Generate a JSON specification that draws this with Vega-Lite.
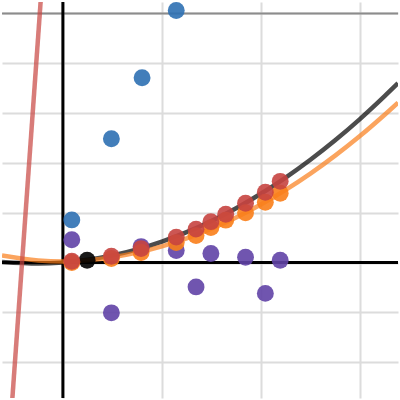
{
  "$schema": "https://vega.github.io/schema/vega-lite/v6.json",
  "width": 400,
  "height": 400,
  "autosize": {"type": "fit", "contains": "padding"},
  "padding": 0,
  "config": {
    "view": {"stroke": null},
    "axis": {"grid": true, "labels": false, "ticks": false, "domain": false, "title": null, "gridColor": "#dcdcdc", "gridWidth": 2}
  },
  "datasets": {
    "vaxis": [{"x": 0}],
    "haxis": [{"y": 0}],
    "top": [{"y": 5}],
    "blackCurve": [
      {"x": -1.23, "y": 0.009}, {"x": -0.5, "y": -0.021}, {"x": 0, "y": 0}, {"x": 0.5, "y": 0.055},
      {"x": 1, "y": 0.143}, {"x": 1.5, "y": 0.265}, {"x": 2, "y": 0.421}, {"x": 2.5, "y": 0.61},
      {"x": 3, "y": 0.834}, {"x": 3.5, "y": 1.09}, {"x": 4, "y": 1.38}, {"x": 4.5, "y": 1.705},
      {"x": 5, "y": 2.063}, {"x": 5.5, "y": 2.454}, {"x": 6, "y": 2.88}, {"x": 6.5, "y": 3.34}, {"x": 6.77, "y": 3.6}
    ],
    "orangeCurve": [
      {"x": -1.23, "y": 0.14}, {"x": -0.5, "y": 0.04}, {"x": 0, "y": 0.02}, {"x": 0.5, "y": 0.046},
      {"x": 1, "y": 0.105}, {"x": 1.5, "y": 0.198}, {"x": 2, "y": 0.325}, {"x": 2.5, "y": 0.484},
      {"x": 3, "y": 0.678}, {"x": 3.5, "y": 0.904}, {"x": 4, "y": 1.164}, {"x": 4.5, "y": 1.458},
      {"x": 5, "y": 1.785}, {"x": 5.5, "y": 2.146}, {"x": 6, "y": 2.539}, {"x": 6.5, "y": 2.967}, {"x": 6.77, "y": 3.21}
    ],
    "redLine": [{"x": -0.43, "y": 5.51}, {"x": -1.05, "y": -3.14}],
    "points": [
      {"s": "black", "x": 0.49, "y": 0.046},
      {"s": "blue", "x": 0.18, "y": 0.855}, {"s": "blue", "x": 0.98, "y": 2.485}, {"s": "blue", "x": 1.6, "y": 3.71}, {"s": "blue", "x": 2.29, "y": 5.06},
      {"s": "purple", "x": 0.18, "y": 0.457}, {"s": "purple", "x": 0.98, "y": -1.01}, {"s": "purple", "x": 1.58, "y": 0.32},
      {"s": "purple", "x": 2.29, "y": 0.24}, {"s": "purple", "x": 2.69, "y": -0.49}, {"s": "purple", "x": 2.99, "y": 0.18},
      {"s": "purple", "x": 3.69, "y": 0.105}, {"s": "purple", "x": 4.09, "y": -0.62}, {"s": "purple", "x": 4.39, "y": 0.046},
      {"s": "orange", "x": 0.18, "y": 0.0}, {"s": "orange", "x": 0.98, "y": 0.08}, {"s": "orange", "x": 1.58, "y": 0.2},
      {"s": "orange", "x": 2.29, "y": 0.4}, {"s": "orange", "x": 2.69, "y": 0.54}, {"s": "orange", "x": 2.99, "y": 0.7},
      {"s": "orange", "x": 3.29, "y": 0.85}, {"s": "orange", "x": 3.69, "y": 1.0}, {"s": "orange", "x": 4.09, "y": 1.21},
      {"s": "orange", "x": 4.39, "y": 1.39},
      {"s": "red", "x": 0.18, "y": 0.026}, {"s": "red", "x": 0.98, "y": 0.125}, {"s": "red", "x": 1.58, "y": 0.28},
      {"s": "red", "x": 2.29, "y": 0.51}, {"s": "red", "x": 2.69, "y": 0.67}, {"s": "red", "x": 2.99, "y": 0.82},
      {"s": "red", "x": 3.29, "y": 0.97}, {"s": "red", "x": 3.69, "y": 1.19}, {"s": "red", "x": 4.09, "y": 1.41},
      {"s": "red", "x": 4.39, "y": 1.63}
    ]
  },
  "layer": [
    {
      "data": {"name": "points"},
      "mark": {"type": "point", "opacity": 0},
      "encoding": {
        "x": {"field": "x", "type": "quantitative", "scale": {"domain": [-1.23, 6.77], "nice": false, "zero": false}, "axis": {"values": [-2, 0, 2, 4, 6]}},
        "y": {"field": "y", "type": "quantitative", "scale": {"domain": [-2.72, 5.23], "nice": false, "zero": false}, "axis": {"values": [-2, -1, 0, 1, 2, 3, 4, 5]}}
      }
    },
    {
      "data": {"name": "top"},
      "mark": {"type": "rule", "color": "#8c8c8c", "strokeWidth": 2},
      "encoding": {"y": {"field": "y", "type": "quantitative", "scale": {"domain": [-2.72, 5.23], "nice": false, "zero": false}}}
    },
    {
      "data": {"name": "vaxis"},
      "mark": {"type": "rule", "color": "#000000", "strokeWidth": 3},
      "encoding": {"x": {"field": "x", "type": "quantitative", "scale": {"domain": [-1.23, 6.77], "nice": false, "zero": false}}}
    },
    {
      "data": {"name": "haxis"},
      "mark": {"type": "rule", "color": "#000000", "strokeWidth": 3},
      "encoding": {"y": {"field": "y", "type": "quantitative", "scale": {"domain": [-2.72, 5.23], "nice": false, "zero": false}}}
    },
    {
      "data": {"name": "blackCurve"},
      "mark": {"type": "line", "color": "#000000", "opacity": 0.7, "strokeWidth": 4.5, "interpolate": "monotone", "clip": true},
      "encoding": {
        "x": {"field": "x", "type": "quantitative", "scale": {"domain": [-1.23, 6.77], "nice": false, "zero": false}},
        "y": {"field": "y", "type": "quantitative", "scale": {"domain": [-2.72, 5.23], "nice": false, "zero": false}}
      }
    },
    {
      "data": {"name": "orangeCurve"},
      "mark": {"type": "line", "color": "#fa7e19", "opacity": 0.7, "strokeWidth": 4.5, "interpolate": "monotone", "clip": true},
      "encoding": {
        "x": {"field": "x", "type": "quantitative", "scale": {"domain": [-1.23, 6.77], "nice": false, "zero": false}},
        "y": {"field": "y", "type": "quantitative", "scale": {"domain": [-2.72, 5.23], "nice": false, "zero": false}}
      }
    },
    {
      "data": {"name": "redLine"},
      "mark": {"type": "line", "color": "#c74440", "opacity": 0.7, "strokeWidth": 4.5, "clip": true},
      "encoding": {
        "x": {"field": "x", "type": "quantitative", "scale": {"domain": [-1.23, 6.77], "nice": false, "zero": false}},
        "y": {"field": "y", "type": "quantitative", "scale": {"domain": [-2.72, 5.23], "nice": false, "zero": false}}
      }
    },
    {
      "data": {"name": "points"},
      "mark": {"type": "circle", "size": 285, "opacity": 0.9, "clip": true},
      "encoding": {
        "x": {"field": "x", "type": "quantitative", "scale": {"domain": [-1.23, 6.77], "nice": false, "zero": false}},
        "y": {"field": "y", "type": "quantitative", "scale": {"domain": [-2.72, 5.23], "nice": false, "zero": false}},
        "color": {"field": "s", "type": "nominal", "legend": null,
          "scale": {"domain": ["black", "blue", "purple", "orange", "red"], "range": ["#000000", "#2d70b3", "#6042a6", "#fa7e19", "#c74440"]}}
      }
    }
  ]
}
